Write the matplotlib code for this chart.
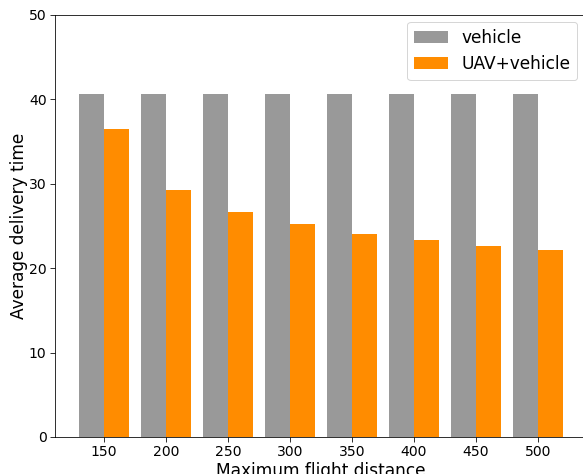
import matplotlib
matplotlib.use("Agg")
import matplotlib.pyplot as plt
import numpy as np

distances = ["150", "200", "250", "300", "350", "400", "450", "500"]
vehicle = [40.6, 40.6, 40.6, 40.6, 40.6, 40.6, 40.6, 40.6]
uav_vehicle = [36.5, 29.3, 26.6, 25.2, 24.1, 23.3, 22.6, 22.1]

W, H, DPI = 583, 474, 72
fig = plt.figure(figsize=(W / DPI, H / DPI), dpi=DPI)
ax = fig.add_axes([55 / W, 37 / H, 532 / W, 422 / H])

x = np.arange(len(distances))
width = 0.4
ax.bar(x - width / 2, vehicle, width, color="#999999", label="vehicle")
ax.bar(x + width / 2, uav_vehicle, width, color="#FF8C00", label="UAV+vehicle")

ax.set_xticks(x)
ax.set_xticklabels(distances)
ax.set_ylim(0, 50)
ax.tick_params(labelsize=14, length=5, pad=3.5)
ax.set_xlabel("Maximum flight distance", fontsize=17, labelpad=2)
ax.set_ylabel("Average delivery time", fontsize=17, labelpad=1)
ax.legend(fontsize=17, loc="upper right", bbox_to_anchor=(0.998, 1.004))

fig.savefig("out.png", dpi=DPI)
